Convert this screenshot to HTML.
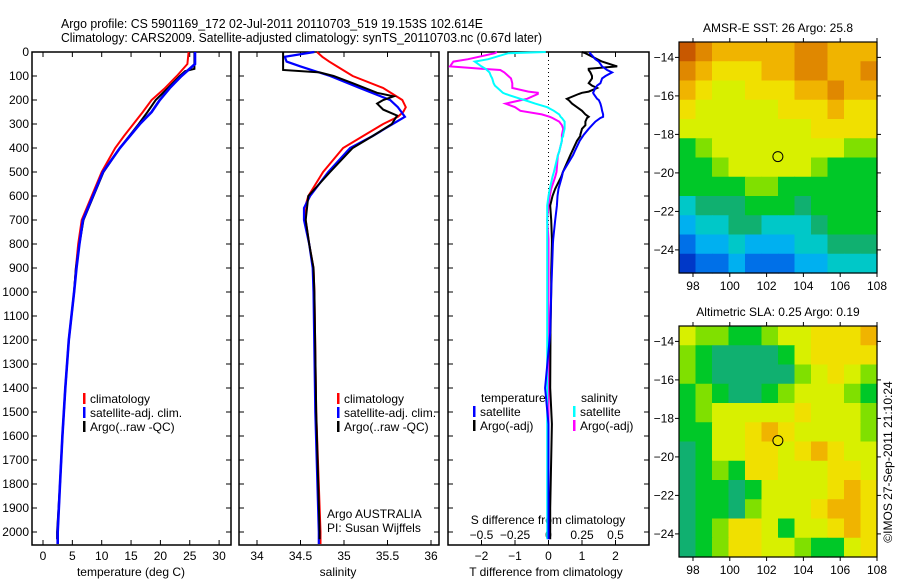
<!DOCTYPE html>
<html><head><meta charset="utf-8"><style>
html,body{margin:0;padding:0;background:#fff;}
svg{display:block;font-family:"Liberation Sans",sans-serif;}
text{fill:#000;}
</style></head><body>
<svg id="fig" width="900" height="580" viewBox="0 0 900 580" xmlns="http://www.w3.org/2000/svg">
<text x="61" y="28" font-size="13" textLength="422" lengthAdjust="spacingAndGlyphs">Argo profile: CS 5901169_172 02-Jul-2011 20110703_519 19.153S 102.614E</text>
<text x="61" y="42" font-size="13" textLength="481" lengthAdjust="spacingAndGlyphs">Climatology: CARS2009. Satellite-adjusted climatology: synTS_20110703.nc (0.67d later)</text>
<g id="g"></g>
</svg>
<script>
// ---------- data ----------
const depthLevels = [0,50,100,150,200,250,300,350,400,500,600,700,800,900,1000,1200,1400,1600,1800,2000,2050];
const tempClim = [24.8,24.6,22.8,20.8,18.5,17.0,15.4,13.8,12.3,10.0,8.3,6.6,6.0,5.6,5.3,4.4,3.8,3.3,2.9,2.5,2.5];
const tempSat  = [25.9,25.9,23.6,21.6,19.9,18.5,16.5,14.8,13.1,10.2,8.5,6.8,6.2,5.7,5.3,4.4,3.8,3.3,2.9,2.5,2.5];
const argoDepth = [0,70,80,100,150,200,250,300,350,400,500,600,700,800,900,1000,1200,1400,1600,1800,2000,2030];
const tempArgo = [25.8,25.8,24.2,23.3,21.3,19.2,17.8,16.3,14.7,13.1,10.3,8.6,6.9,6.2,5.6,5.3,4.4,3.8,3.3,2.9,2.4,2.4];

const salDepth = [0,20,40,60,100,150,200,230,250,270,300,350,400,500,600,650,700,800,900,1000,1500,2000,2050];
const salClim = [34.69,34.75,34.83,34.92,35.10,35.45,35.67,35.71,35.68,35.62,35.45,35.22,34.99,34.76,34.59,34.55,34.56,34.60,34.65,34.66,34.68,34.73,34.73];
const salSat  = [34.66,34.32,34.34,34.50,34.84,35.18,35.53,35.62,35.66,35.70,35.56,35.33,35.07,34.82,34.61,34.54,34.54,34.60,34.64,34.65,34.67,34.71,34.71];
const salArgoDepth = [0,75,85,100,130,170,185,200,215,240,265,300,350,400,500,600,700,800,900,1000,1500,2000,2030];
const salArgo = [34.30,34.30,34.72,34.88,35.10,35.38,35.57,35.45,35.38,35.45,35.61,35.55,35.33,35.10,34.84,34.59,34.56,34.60,34.65,34.66,34.68,34.72,34.72];

const diffDepth = [0,5,30,40,60,70,75,85,100,110,130,140,150,165,170,175,195,200,215,230,245,260,270,275,290,305,320,345,350,360,370,415,430,500,520,570,600,640,700,780,800,920,1000,1170,1400,1550,1900,2030];
const dTempSat  = [1.24,1.24,1.4,1.5,1.6,1.7,1.75,1.9,1.7,1.6,1.55,1.45,1.4,1.35,1.33,1.35,1.45,1.5,1.55,1.58,1.6,1.63,1.63,1.55,1.4,1.3,1.2,1.05,1.03,0.98,0.93,0.78,0.73,0.43,0.4,0.3,0.27,0.25,0.2,0.14,0.13,0.1,0.08,0.05,-0.1,0.0,0.0,0.0];
const dTempArgo = [1.0,1.1,1.45,1.6,2.05,1.2,1.2,1.25,1.3,1.3,1.2,1.3,1.45,1.2,1.0,0.9,0.55,0.6,0.7,0.85,1.0,1.1,1.2,1.15,1.1,1.1,1.0,0.95,0.95,0.9,0.85,0.7,0.65,0.43,0.38,0.2,0.12,0.05,0.08,0.1,0.1,0.08,0.08,0.06,0.05,0.1,0.05,0.05];
const dSalSat   = [-0.02,-0.3,-0.45,-0.55,-0.5,-0.47,-0.46,-0.44,-0.43,-0.42,-0.41,-0.4,-0.38,-0.35,-0.34,-0.32,-0.21,-0.18,-0.1,-0.01,0.04,0.08,0.09,0.1,0.12,0.12,0.12,0.11,0.11,0.1,0.1,0.08,0.07,0.04,0.03,0.01,0.0,-0.01,-0.01,-0.01,-0.01,-0.01,-0.01,-0.01,-0.01,-0.01,-0.01,-0.01];
const dSalArgo  = [-0.385,-0.4,-0.6,-0.71,-0.735,-0.5,-0.36,-0.33,-0.3,-0.28,-0.27,-0.27,-0.27,-0.15,-0.08,-0.08,-0.16,-0.2,-0.32,-0.25,-0.21,-0.05,0.01,0.03,0.08,0.1,0.11,0.1,0.1,0.1,0.1,0.08,0.07,0.06,0.05,0.02,0.01,0.0,-0.01,0.0,0.0,0.0,0.0,0.0,0.0,0.0,0.0,0.0];

const sstGrid = [
[11,10,9,9,9,9,9,10,10,9,9,9],
[10,9,8,8,8,9,9,10,10,9,9,10],
[9,8,7,7,8,8,8,9,9,10,9,9],
[8,7,7,7,7,7,8,8,8,9,8,8],
[7,7,7,7,7,7,7,7,8,8,8,8],
[5,6,7,7,7,7,7,7,7,7,6,6],
[5,5,6,7,7,7,7,7,6,5,5,5],
[5,5,5,5,6,6,5,5,5,5,5,5],
[3,4,4,4,5,5,5,4,5,5,5,5],
[2,3,3,4,4,3,3,3,4,5,5,5],
[1,2,2,3,2,2,2,3,3,4,4,4],
[0,1,1,2,1,1,1,2,2,3,3,3]];
const slaGrid = [
[7,6,6,5,5,6,7,7,8,8,8,9],
[6,5,4,4,4,4,5,7,8,8,8,8],
[6,5,4,4,4,4,4,6,7,8,7,6],
[5,6,5,4,4,5,6,7,7,7,6,5],
[5,6,7,7,7,7,7,8,7,7,7,6],
[5,5,7,7,8,9,8,7,7,7,7,6],
[4,5,7,7,8,8,7,8,9,8,7,7],
[4,5,6,5,8,8,7,7,7,8,8,7],
[4,5,5,4,5,7,7,7,7,8,9,8],
[4,5,5,4,6,7,7,7,8,9,9,8],
[4,5,6,8,8,7,5,7,7,8,9,8],
[4,5,6,8,8,7,7,6,5,5,7,8]];
const palette = ["#0038c8","#0070e8","#00b0f0","#00c8c8","#10b070","#00c828","#80e000","#d8f000","#f0e000","#f0b400","#e08800","#c85800"];

const depthTicks = [0,100,200,300,400,500,600,700,800,900,1000,1100,1200,1300,1400,1500,1600,1700,1800,1900,2000];
const tempTicks = [0,5,10,15,20,25,30];
const salTicks = [34,34.5,35,35.5,36];
const tDiffTicks = [-2,-1,0,1,2];
const sDiffTicks = [-0.5,-0.25,0,0.25,0.5];
const lonTicks = [98,100,102,104,106,108];
const latTicks = [-14,-16,-18,-20,-22,-24];
const argoLon = 102.614, argoLat = -19.153;

// ---------- helpers ----------
const NS="http://www.w3.org/2000/svg";
const G=document.getElementById('g');
function el(tag,attrs,parent){const e=document.createElementNS(NS,tag);for(const k in attrs)e.setAttribute(k,attrs[k]);(parent||G).appendChild(e);return e;}
function txt(x,y,s,size,anchor,parent){const t=el('text',{x:x,y:y,'font-size':size||12,'text-anchor':anchor||'start'},parent);t.textContent=s;return t;}

const yTop=52, yBot=545;
const yD = d => yTop + d*0.24;
const xT = v => 43 + v*5.87;
const xS = v => 257 + (v-34)*87;
const xdT = v => 548.5 + v*33.5;
const xdS = v => 548.5 + v*134;

function stepPath(depths, vals, fx){
  let d='';
  for(let i=0;i<depths.length;i++){
    const x=fx(vals[i]).toFixed(1), y=yD(depths[i]).toFixed(1);
    d += (i? 'L':'M')+x+','+y;
  }
  return d;
}
function line(depths, vals, fx, color, w, name, parent){
  const p=el('path',{d:stepPath(depths,vals,fx),fill:'none',stroke:color,'stroke-width':w,'stroke-linejoin':'miter'},parent);
  
  
}

function panel(x0,x1,name,xticks,fx,showDepthLabels){
  const g=el('g',{});
  
  
  el('rect',{x:x0,y:yTop,width:x1-x0,height:yBot-yTop,fill:'#fff',stroke:'#000','stroke-width':1.5},g);
  depthTicks.forEach(d=>{
    const y=yD(d);
    el('line',{x1:x0,y1:y,x2:x0+5,y2:y,stroke:'#000'},g);
    el('line',{x1:x1-5,y1:y,x2:x1,y2:y,stroke:'#000'},g);
    if(showDepthLabels){const t=txt(x0-3,y+4,String(d),12,'end',g);
      
      }
  });
  xticks.forEach(v=>{
    const x=fx(v);
    el('line',{x1:x,y1:yTop,x2:x,y2:yTop+5,stroke:'#000'},g);
    el('line',{x1:x,y1:yBot-5,x2:x,y2:yBot,stroke:'#000'},g);
  });
  return g;
}

// ---------- temperature panel ----------
const p1=panel(32,231,'temperature-panel',tempTicks,xT,true);
tempTicks.forEach(v=>{const t=txt(xT(v),560,String(v),12,'middle',p1);
  
  });
const xt1=txt(131,576,'temperature (deg C)',12,'middle',p1);


line(depthLevels,tempClim,xT,'#ff0000',2,'temp-climatology-line',p1);
line(argoDepth,tempArgo,xT,'#000',2,'temp-argo-line',p1);
line(depthLevels,tempSat,xT,'#0000ff',2.6,'temp-satellite-line',p1);

function legend(parent,x,y,items){
  items.forEach((it,i)=>{
    const yy=y+i*14;
    el('rect',{x:x,y:yy-10,width:2.5,height:11,fill:it[1]},parent);
    const t=txt(x+7,yy,it[0],12,'start',parent);
    
    
  });
}
legend(p1,83,403,[['climatology','#ff0000'],['satellite-adj. clim.','#0000ff'],['Argo(..raw -QC)','#000']]);

// ---------- salinity panel ----------
const p2=panel(239,439,'salinity-panel',salTicks,xS,false);
salTicks.forEach(v=>{const t=txt(xS(v),560,String(v),12,'middle',p2);
  
  });
const xt2=txt(338,576,'salinity',12,'middle',p2);


line(salDepth,salClim,xS,'#ff0000',2,'sal-climatology-line',p2);
line(salDepth,salSat,xS,'#0000ff',2.2,'sal-satellite-line',p2);
line(salArgoDepth,salArgo,xS,'#000',2,'sal-argo-line',p2);
legend(p2,337,403,[['climatology','#ff0000'],['satellite-adj. clim.','#0000ff'],['Argo(..raw -QC)','#000']]);
const a1=txt(327,518,'Argo AUSTRALIA',12,'start',p2);

const a2=txt(327,532,'PI: Susan Wijffels',12,'start',p2);


// ---------- difference panel ----------
const p3=panel(448,649,'difference-panel',tDiffTicks,xdT,false);
el('line',{x1:548.5,y1:yTop,x2:548.5,y2:yBot,stroke:'#000','stroke-dasharray':'1,3'},p3);
tDiffTicks.forEach(v=>{const t=txt(xdT(v),560,String(v).replace('-','\u2212'),12,'middle',p3);
  
  });
sDiffTicks.forEach(v=>{const t=txt(xdS(v),539,String(v).replace('-','\u2212'),12,'middle',p3);
  
  });
const st=txt(548,524,'S difference from climatology',12,'middle',p3);

const tt=txt(546,576,'T difference from climatology',12,'middle',p3);

line(diffDepth,dSalArgo,xdS,'#ff00ff',2,'sal-diff-argo-line',p3);
line(diffDepth,dSalSat,xdS,'#00ffff',2,'sal-diff-satellite-line',p3);
line(diffDepth,dTempArgo,xdT,'#000',2,'temp-diff-argo-line',p3);
line(diffDepth,dTempSat,xdT,'#0000ff',2,'temp-diff-satellite-line',p3);
const lt=txt(481,402,'temperature',12,'start',p3);

const ls=txt(581,402,'salinity',12,'start',p3);

legend(p3,473,416,[['satellite','#0000ff'],['Argo(-adj)','#000']]);
legend(p3,573,416,[['satellite','#00ffff'],['Argo(-adj)','#ff00ff']]);

// ---------- maps ----------
function map(name,title,grid,top,bottom,latTop,latBot,circleFill){
  const x0=679,x1=877,lonL=97.24,lonR=108.0;
  const fx=v=>x0+(v-lonL)*(x1-x0)/(lonR-lonL);
  const fy=v=>top+(latTop-v)*(bottom-top)/(latTop-latBot);
  const g=el('g',{});
  
  
  const rows=grid.length, cols=grid[0].length;
  const cw=(x1-x0)/cols, ch=(bottom-top)/rows;
  for(let r=0;r<rows;r++)for(let c=0;c<cols;c++){
    const cell=el('rect',{x:(x0+c*cw).toFixed(2),y:(top+r*ch).toFixed(2),width:(cw+0.6).toFixed(2),height:(ch+0.6).toFixed(2),fill:palette[grid[r][c]]},g);
    
    
  }
  el('rect',{x:x0,y:top,width:x1-x0,height:bottom-top,fill:'none',stroke:'#000','stroke-width':1.2},g);
  lonTicks.forEach(v=>{const x=fx(v);
    el('line',{x1:x,y1:top,x2:x,y2:top-4,stroke:'#000'},g);
    el('line',{x1:x,y1:bottom,x2:x,y2:bottom+4,stroke:'#000'},g);
    const t=txt(x,bottom+17,String(v),12,'middle',g);
    });
  latTicks.forEach(v=>{const y=fy(v);
    el('line',{x1:x0,y1:y,x2:x0-4,y2:y,stroke:'#000'},g);
    el('line',{x1:x1,y1:y,x2:x1+4,y2:y,stroke:'#000'},g);
    const t=txt(x0-5,y+4,String(v).replace('-','\u2212'),12,'end',g);
    });
  const c=el('circle',{cx:fx(argoLon),cy:fy(argoLat),r:5,fill:circleFill,stroke:'#000','stroke-width':1},g);
  
  
  const t=txt(778,top-10,title,12,'middle',g);
  
}
map('sst-map','AMSR-E SST: 26 Argo: 25.8',sstGrid,42,273,-13.2,-25.2,'none');
map('sla-map','Altimetric SLA: 0.25 Argo: 0.19',slaGrid,326,557,-13.2,-25.2,'#f0e000');

const cr=el('text',{x:0,y:0,'font-size':12,'text-anchor':'middle',transform:'translate(892,462) rotate(-90)'});
cr.textContent='\u00A9IMOS 27-Sep-2011 21:10:24';


</script>
</body></html>
